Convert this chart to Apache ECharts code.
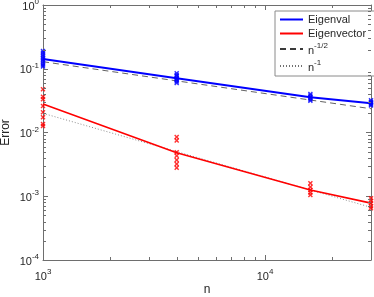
<!DOCTYPE html>
<html><head><meta charset="utf-8">
<script src="https://cdn.jsdelivr.net/npm/echarts@6/dist/echarts.min.js"></script>
<style>html,body{margin:0;padding:0;background:#fff}#c{width:374px;height:297px}</style>
</head><body><div id="c"></div>
<script>
// ---- data ----
const nValues = [1000, 4000, 16000, 30000];
const eigenvalMean = [0.142, 0.0708, 0.0356, 0.0287];
const eigenvecMean = [0.028, 0.0048, 0.00125, 0.00078];
const refX = [1000, 30000];
const refHalf = [0.129, 0.0236];   // n^-1/2 guide
const refOne = [0.02, 0.00067];    // n^-1 guide
const eigenvalSamples = [
  [0.19, 0.178, 0.166, 0.155, 0.146, 0.138, 0.13, 0.121, 0.113, 0.108],
  [0.085, 0.08, 0.076, 0.072, 0.069, 0.066, 0.063, 0.06],
  [0.04, 0.038, 0.036, 0.0345, 0.033, 0.0315],
  [0.032, 0.0305, 0.0295, 0.0285, 0.0275, 0.0265]
];
const eigenvecSamples = [
  [0.0475, 0.0365, 0.0331, 0.026, 0.0207, 0.0173, 0.0136, 0.0126],
  [0.0085, 0.0075, 0.0049, 0.0043, 0.0037, 0.0032, 0.0028],
  [0.0016, 0.0014, 0.00125, 0.00115, 0.00105],
  [0.00093, 0.00085, 0.00078, 0.0007, 0.00065]
];
const legendNames = ['Eigenval', 'Eigenvector', 'n^-1/2', 'n^-1'];
const xMinorTicks = [2000, 3000, 4000, 5000, 6000, 7000, 8000, 9000, 20000];
const yMinorTicks = [2e-4,3e-4,4e-4,5e-4,6e-4,7e-4,8e-4,9e-4,
                     2e-3,3e-3,4e-3,5e-3,6e-3,7e-3,8e-3,9e-3,
                     2e-2,3e-2,4e-2,5e-2,6e-2,7e-2,8e-2,9e-2,
                     0.2,0.3,0.4,0.5,0.6,0.7,0.8,0.9];

// ---- build ----
const AX = '#6e6e6e', TX = '#262626';
const FONT = 'Liberation Sans';
function pairs(xs, ys){ return xs.map((x,i)=>[x, ys[i]]); }
function samples(arr){ const out=[]; arr.forEach((g,i)=>g.forEach(v=>out.push([nValues[i], v]))); return out; }
function powLabel(v){
  const e = Math.log10(v), r = Math.round(e);
  if (Math.abs(e - r) > 1e-6) return '';
  return '{b|10}{s|' + r + '}';
}
const rich = {
  b: {fontSize: 11, fontFamily: FONT, color: TX, lineHeight: 14, verticalAlign: 'bottom'},
  s: {fontSize: 8, fontFamily: FONT, color: TX, lineHeight: 8, verticalAlign: 'top'}
};
const xMark = 'path://M0,2L2,0L5,3L8,0L10,2L7,5L10,8L8,10L5,7L2,10L0,8L3,5Z';
const minorData = xMinorTicks.map(v=>[v, 1, 0]).concat(yMinorTicks.map(v=>[1000, v, 1]));

const chart = echarts.init(document.getElementById('c'), null, {renderer: 'canvas'});
chart.setOption({
  animation: false,
  backgroundColor: '#fff',
  grid: {left: 43, right: 3, top: 5, bottom: 37, containLabel: false, outerBoundsMode: 'none'},
  xAxis: [{
    type: 'log', logBase: 10, min: 1000, max: 30000,
    name: 'n', nameLocation: 'middle', nameGap: 24, nameMoveOverlap: false,
    nameTextStyle: {fontFamily: FONT, fontSize: 12, color: TX},
    axisLine: {show: true, lineStyle: {color: AX, width: 1}},
    axisTick: {show: true, inside: true, length: 5, lineStyle: {color: AX}},
    axisLabel: {formatter: powLabel, rich: rich, margin: 8, showMaxLabel: false},
    splitLine: {show: false}
  }, {
    type: 'log', logBase: 10, min: 1000, max: 30000, position: 'top',
    axisLine: {show: true, lineStyle: {color: AX, width: 1}},
    axisTick: {show: true, inside: true, length: 5, lineStyle: {color: AX}},
    axisLabel: {show: false}, splitLine: {show: false}
  }],
  yAxis: [{
    type: 'log', logBase: 10, min: 1e-4, max: 1,
    name: 'Error', nameLocation: 'middle', nameGap: 31, nameMoveOverlap: false,
    nameTextStyle: {fontFamily: FONT, fontSize: 12, color: TX},
    axisLine: {show: true, lineStyle: {color: AX, width: 1}},
    axisTick: {show: true, inside: true, length: 5, lineStyle: {color: AX}},
    axisLabel: {formatter: powLabel, rich: rich, margin: 4},
    splitLine: {show: false}
  }, {
    type: 'log', logBase: 10, min: 1e-4, max: 1, position: 'right',
    axisLine: {show: true, lineStyle: {color: AX, width: 1}},
    axisTick: {show: true, inside: true, length: 5, lineStyle: {color: AX}},
    axisLabel: {show: false}, splitLine: {show: false}
  }],
  legend: {
    data: legendNames,
    orient: 'vertical', left: 275, top: 11,
    padding: [3, 12, 3, 4], itemGap: 3,
    itemWidth: 23, itemHeight: 10,
    itemStyle: {opacity: 0},
    backgroundColor: '#fff', borderColor: '#8a8a8a', borderWidth: 1, borderRadius: 0,
    textStyle: {fontFamily: FONT, fontSize: 11, color: TX,
      rich: {b: {fontSize: 11, fontFamily: FONT, color: TX, lineHeight: 14, verticalAlign: 'bottom'},
             s: {fontSize: 8, fontFamily: FONT, color: TX, lineHeight: 8, verticalAlign: 'top'}}},
    formatter: function(name){
      if (name.indexOf('^') < 0) return name;
      const p = name.split('^');
      return '{b|' + p[0] + '}{s|' + p[1] + '}';
    }
  },
  series: [
    {type: 'custom', name: 'minor', xAxisIndex: 0, yAxisIndex: 0, silent: true,
     data: minorData, z: 5, clip: false,
     renderItem: function(params, api){
       const cs = params.coordSys;
       const kind = api.value(2);
       const st = {stroke: AX, lineWidth: 1};
       if (kind === 0) {
         const px = Math.round(api.coord([api.value(0), 1])[0]) + 0.5;
         const b = cs.y + cs.height;
         return {type: 'group', children: [
           {type: 'line', shape: {x1: px, y1: b, x2: px, y2: b - 3}, style: st},
           {type: 'line', shape: {x1: px, y1: cs.y, x2: px, y2: cs.y + 3}, style: st}
         ]};
       } else {
         const py = Math.round(api.coord([1000, api.value(1)])[1]) + 0.5;
         const r = cs.x + cs.width;
         return {type: 'group', children: [
           {type: 'line', shape: {x1: cs.x, y1: py, x2: cs.x + 3, y2: py}, style: st},
           {type: 'line', shape: {x1: r, y1: py, x2: r - 3, y2: py}, style: st}
         ]};
       }
     }},
    {type: 'scatter', name: 'evalPts', data: samples(eigenvalSamples), symbol: xMark, symbolSize: 5,
     itemStyle: {color: '#0000ff'}, z: 3, silent: true},
    {type: 'scatter', name: 'evecPts', data: samples(eigenvecSamples), symbol: xMark, symbolSize: 5,
     itemStyle: {color: '#ff0000'}, z: 3, silent: true},
    {type: 'line', name: 'Eigenval', data: pairs(nValues, eigenvalMean), symbol: 'none',
     lineStyle: {color: '#0000ff', width: 2}, itemStyle: {color: '#0000ff'}, z: 4},
    {type: 'line', name: 'Eigenvector', data: pairs(nValues, eigenvecMean), symbol: 'none',
     lineStyle: {color: '#ff0000', width: 1.6}, itemStyle: {color: '#ff0000'}, z: 4},
    {type: 'line', name: 'n^-1/2', data: pairs(refX, refHalf), symbol: 'none',
     lineStyle: {color: '#3a3a3a', width: 0.8, type: [6, 4]}, itemStyle: {color: '#3a3a3a'}, z: 2},
    {type: 'line', name: 'n^-1', data: pairs(refX, refOne), symbol: 'none',
     lineStyle: {color: '#707070', width: 0.8, type: [1, 2]}, itemStyle: {color: '#707070'}, z: 2}
  ]
});
</script></body></html>
